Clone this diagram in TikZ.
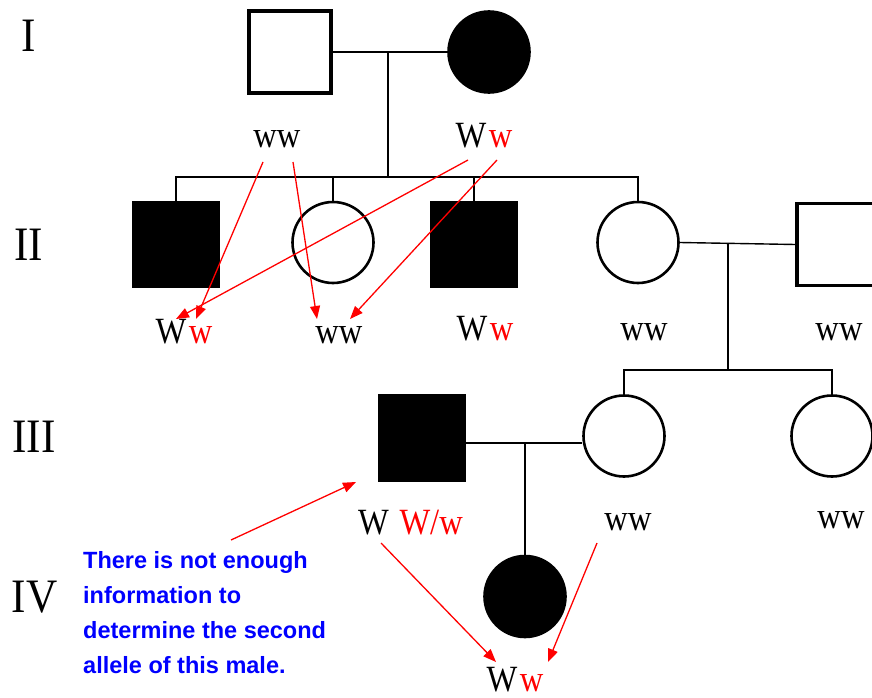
\documentclass[tikz,border=0pt]{standalone}
\usepackage{fontspec}
\usepackage{graphicx}
\setmainfont{Liberation Serif}
\newfontfamily\notefont{Liberation Sans}
\usetikzlibrary{arrows.meta}
\newcommand{\narrowtxt}[1]{\scalebox{0.88}[1]{#1}}
\newcommand{\narrowgen}[1]{\scalebox{0.9}[1]{#1}}
\begin{document}
\begin{tikzpicture}[x=1pt,y=-1pt,
  male/.style={rectangle,draw=black,line width=3.2pt,minimum size=82pt,inner sep=0pt},
  female/.style={circle,draw=black,line width=2.6pt,minimum size=81pt,inner sep=0pt},
  aff/.style={fill=black},
  link/.style={draw=black,line width=1.4pt},
  gen/.style={font=\fontsize{48}{48}\selectfont,inner sep=0pt,anchor=base},
  geno/.style={font=\fontsize{37}{37}\selectfont,inner sep=0pt,anchor=base},
  inh/.style={draw=red,line width=1.3pt,-{Triangle[length=13pt,width=10pt]}},
  note/.style={font=\notefont\bfseries\fontsize{23.5}{35}\selectfont,text=blue,align=left,inner sep=0pt,anchor=north west}
]
\clip (0,0) rectangle (872,698);
\fill[white] (0,0) rectangle (872,698);

% generation labels
\node[gen] (gI) at (28.5,52) {\narrowgen{I}};
\node[gen] (gII) at (28.5,260) {\narrowgen{II}};
\node[gen] (gIII) at (34,452) {\narrowgen{III}};
\node[gen] (gIV) at (34.5,612) {\narrowgen{IV}};

% individuals
\node[male] (I1) at (290,52) {};
\node[female,aff] (I2) at (489,52) {};
\node[male,aff,minimum size=84pt] (II1) at (176,244.5) {};
\node[female] (II2) at (333,242.5) {};
\node[male,aff,minimum size=84pt] (II3) at (474,244.5) {};
\node[female] (II4) at (638,242.5) {};
\node[male] (II5) at (838,244.5) {};
\node[male,aff,minimum size=85pt] (III1) at (422,438) {};
\node[female] (III2) at (624,436) {};
\node[female] (III3) at (832,436) {};
\node[female,aff] (IV1) at (525,596.5) {};

% connectors
\coordinate (mI) at (388,52);
\coordinate (sI) at (388,177);
\draw[link] (I1.east) -- (I2.west);
\draw[link] (mI) -- (sI);
\draw[link] (II1.north) |- (sI) -| (II4.north);
\draw[link] (II2.north) -- (II2.north |- sI);
\draw[link] (II3.north) -- (II3.north |- sI);

\coordinate (mII) at (728,243);
\coordinate (sII) at (728,370);
\draw[link] (II4.east) -- (II5.west);
\draw[link] (mII) -- (sII);
\draw[link] (III2.north) |- (sII) -| (III3.north);

\coordinate (mIII) at (525,443);
\draw[link] (III1.east |- mIII) -- (III2.west |- mIII);
\draw[link] (mIII) -- (IV1.north);

% genotypes
\node[geno] (tI1) at (277,147) {\narrowtxt{ww}};
\node[geno] (tI2) at (484,147) {\narrowtxt{W\hspace{3pt}\textcolor{red}{w}}};
\node[geno] (tII1) at (184,343) {\narrowtxt{W\hspace{3pt}\textcolor{red}{w}}};
\node[geno] (tII2) at (339,343) {\narrowtxt{ww}};
\node[geno] (tII3) at (485,340) {\narrowtxt{W\hspace{3pt}\textcolor{red}{w}}};
\node[geno] (tII4) at (644,340) {\narrowtxt{ww}};
\node[geno] (tII5) at (839,340) {\narrowtxt{ww}};
\node[geno] (tIII1) at (410.5,534) {\narrowtxt{W\hspace{12pt}\textcolor{red}{W/w}}};
\node[geno] (tIII2) at (628,530) {\narrowtxt{ww}};
\node[geno] (tIII3) at (841,528) {\narrowtxt{ww}};
\node[geno] (tIV1) at (515,691) {\narrowtxt{W\hspace{3pt}\textcolor{red}{w}}};

% note
\node[note] (note) at (83,551) {There is not enough\\information to\\determine the second\\allele of this male.};

% inheritance arrows
\coordinate (a1s) at (263,162); \coordinate (a1e) at (196,319);
\coordinate (a2s) at (468,160); \coordinate (a2e) at (176,319);
\coordinate (a3s) at (293,162); \coordinate (a3e) at (317,319);
\coordinate (a4s) at (497,160); \coordinate (a4e) at (350,319);
\coordinate (a5s) at (381,543); \coordinate (a5e) at (496,662);
\coordinate (a6s) at (597,543); \coordinate (a6e) at (548,662);
\coordinate (a7s) at (231,540); \coordinate (a7e) at (356,482);
\draw[inh] (a1s) -- (a1e);
\draw[inh] (a2s) -- (a2e);
\draw[inh] (a3s) -- (a3e);
\draw[inh] (a4s) -- (a4e);
\draw[inh] (a5s) -- (a5e);
\draw[inh] (a6s) -- (a6e);
\draw[inh] (a7s) -- (a7e);
\end{tikzpicture}
\end{document}
